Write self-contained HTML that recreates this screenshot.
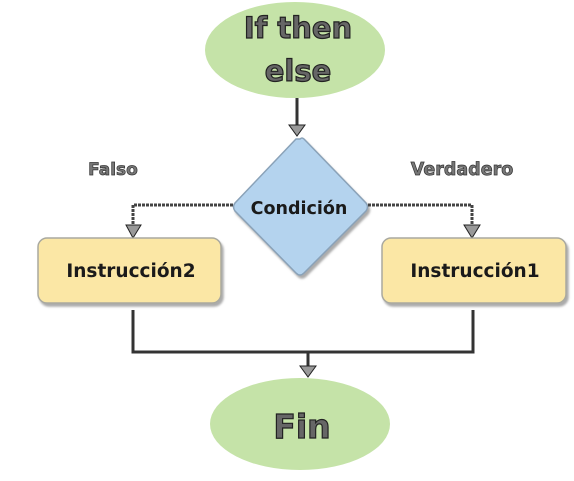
<!DOCTYPE html>
<html><head><style>body{margin:0;background:#fff}</style></head><body>
<svg width="574" height="476" xmlns="http://www.w3.org/2000/svg" font-family="'DejaVu Sans','Liberation Sans',sans-serif" font-weight="bold">
<defs><filter id="s"><feDropShadow dx="2" dy="3" stdDeviation="1" flood-color="#888" flood-opacity="0.7"/></filter></defs>
<ellipse cx="295" cy="50" rx="90" ry="48" fill="#c5e3a8"/>
<text x="298" y="38" text-anchor="middle" font-size="29" fill="#666" stroke="#222" stroke-width="1.2">If then</text>
<text x="298" y="81" text-anchor="middle" font-size="29" fill="#666" stroke="#222" stroke-width="1.2">else</text>
<line x1="297" y1="98" x2="297" y2="128" stroke="#333" stroke-width="3"/>
<polygon points="289,125 305,125 297,136" fill="#999" stroke="#222"/>
<path d="M300,139 Q302,137 304,139 L366,203 Q369,207 366,211 L304,273 Q300,277 296,273 L235,211 Q232,207 235,203 L296,139 Z" fill="#b4d3ee" stroke="#8aa2b8" stroke-width="1.5" filter="url(#s)"/>
<text x="299" y="214" text-anchor="middle" font-size="17.5" fill="#1a1a1a">Condición</text>
<polyline points="233,205 133,205 133,228" fill="none" stroke="#444" stroke-width="3" stroke-dasharray="3,1"/>
<polygon points="126,225 141,225 133,238" fill="#999" stroke="#222"/>
<polyline points="368,205 472,205 472,228" fill="none" stroke="#444" stroke-width="3" stroke-dasharray="3,1"/>
<polygon points="464,225 480,225 472,238" fill="#999" stroke="#222"/>
<text x="113" y="175" text-anchor="middle" font-size="17" fill="#777" stroke="#333" stroke-width="0.7">Falso</text>
<text x="462" y="175" text-anchor="middle" font-size="17.5" fill="#777" stroke="#333" stroke-width="0.7">Verdadero</text>
<rect x="38" y="238" width="183" height="65" rx="9" fill="#fbe7a5" stroke="#a9a9a0" stroke-width="1.5" filter="url(#s)"/>
<text x="131" y="277" text-anchor="middle" font-size="18.5" fill="#1a1a1a">Instrucción2</text>
<rect x="382" y="238" width="184" height="65" rx="9" fill="#fbe7a5" stroke="#a9a9a0" stroke-width="1.5" filter="url(#s)"/>
<text x="475" y="277" text-anchor="middle" font-size="18.5" fill="#1a1a1a">Instrucción1</text>
<polyline points="133,310 133,352 473,352 473,310" fill="none" stroke="#333" stroke-width="3"/>
<line x1="308" y1="352" x2="308" y2="368" stroke="#333" stroke-width="3"/>
<polygon points="300,366 316,366 308,377" fill="#999" stroke="#222"/>
<ellipse cx="300" cy="424" rx="90" ry="46" fill="#c5e3a8"/>
<text x="302" y="438" text-anchor="middle" font-size="33" fill="#666" stroke="#222" stroke-width="1.2">Fin</text>
</svg>
</body></html>
